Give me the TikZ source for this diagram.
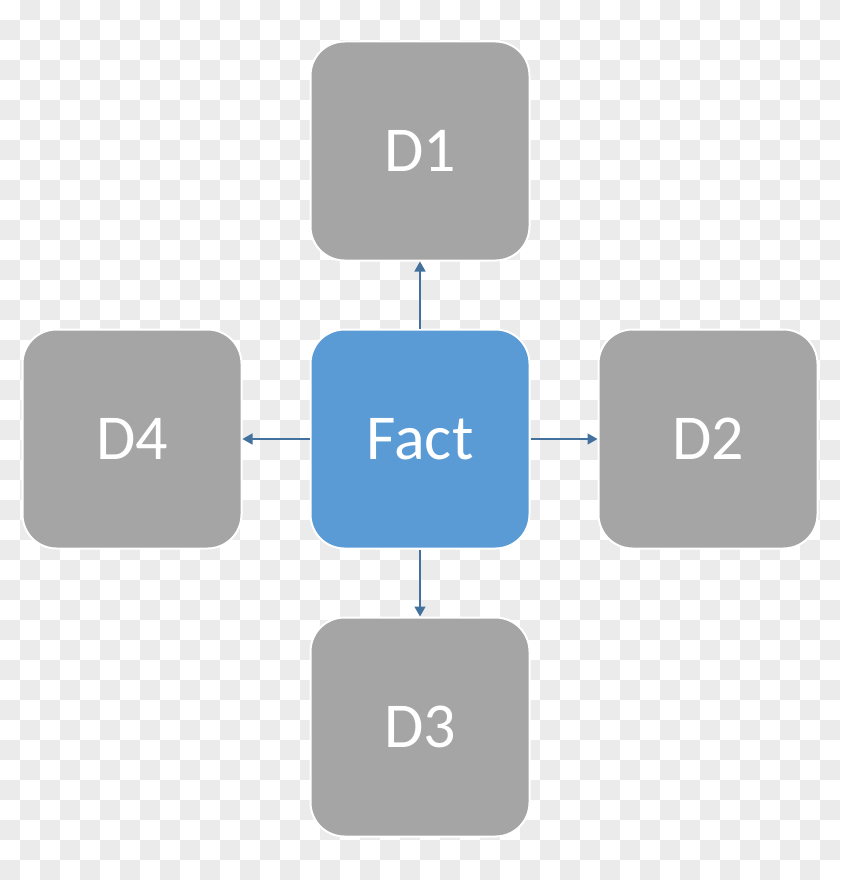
\documentclass[tikz,border=0pt]{standalone}
\usepackage{fontspec}
\setmainfont{Carlito}
\usepackage{tikz}
\usetikzlibrary{arrows.meta,positioning}
\definecolor{dimgray}{RGB}{165,165,165}
\definecolor{factblue}{RGB}{91,155,213}
\definecolor{linkblue}{RGB}{65,113,156}
\definecolor{checker}{RGB}{235,235,235}

\begin{document}
\begin{tikzpicture}[
  x=1pt, y=-1pt,
  box/.style={rectangle, draw=white, line width=2pt, rounded corners=34pt,
              minimum size=219pt, inner sep=0pt, text=white,
              font=\fontsize{64}{72}\selectfont, fill=#1},
  arrow/.style={-{Triangle[length=10pt,width=11pt]}, line width=1.5pt, draw=linkblue},
  node distance=67pt
]
  % ── background checkerboard ──
  \useasboundingbox (0,0) rectangle (840,880);
  \fill[white] (0,0) rectangle (840,880);
  \foreach \i in {0,...,41}
    \foreach \j in {0,...,43} {
      \pgfmathtruncatemacro\k{\i+\j}
      \ifodd\k \fill[checker] (20*\i,20*\j) rectangle ++(20,20); \fi
    }

  % ── fact and its dimensions ──
  \node[box=factblue] (fact) at (420,439) {Fact};
  \node[box=dimgray, above=of fact] (d1) {D1};
  \node[box=dimgray, right=of fact] (d2) {D2};
  \node[box=dimgray, below=of fact] (d3) {D3};
  \node[box=dimgray, left=of fact] (d4) {D4};

  \draw[arrow] (fact) -- (d1);
  \draw[arrow] (fact) -- (d2);
  \draw[arrow] (fact) -- (d3);
  \draw[arrow] (fact) -- (d4);
\end{tikzpicture}
\end{document}
